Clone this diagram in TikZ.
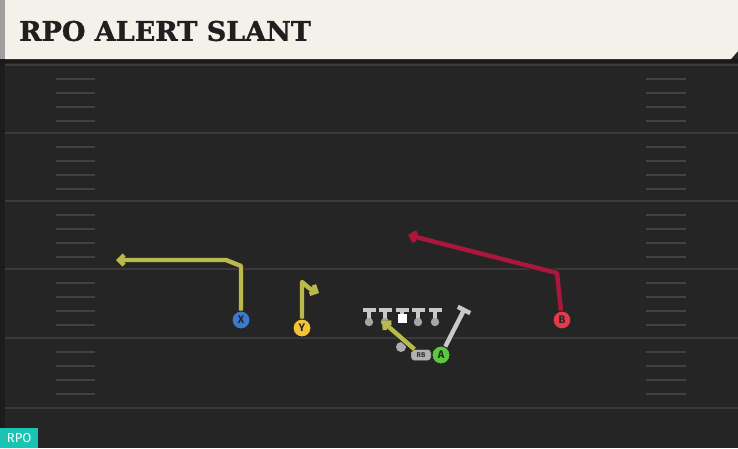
\documentclass[tikz,border=0pt]{standalone}
\usepackage{fontspec}
\setsansfont{Fira Sans}
\newfontfamily\titlefont{DejaVu Serif}[BoldFeatures={FakeBold=1.2}]
\usetikzlibrary{arrows.meta}
\usetikzlibrary{positioning}

\definecolor{fieldbg}{HTML}{252525}
\definecolor{yardgray}{HTML}{3A3A3A}
\definecolor{hashgray}{HTML}{414141}
\definecolor{cream}{HTML}{F4F1EA}
\definecolor{olivert}{HTML}{B9B94C}
\definecolor{redrt}{HTML}{AC163C}
\definecolor{blockgray}{HTML}{C9C9C9}
\definecolor{xblue}{HTML}{3C7AD2}
\definecolor{yyellow}{HTML}{F3C437}
\definecolor{bred}{HTML}{E23A4A}
\definecolor{agreen}{HTML}{5CC93C}
\definecolor{tagteal}{HTML}{19C4B3}

\begin{document}
\begin{tikzpicture}[x=1pt,y=-1pt,
    yard/.style={draw=yardgray,line width=2pt},
    hash/.style={draw=hashgray,line width=1.6pt},
    player/.style={circle,draw=black!85,line width=1pt,minimum size=18pt,inner sep=0pt,
        font=\sffamily\bfseries\fontsize{11}{11}\selectfont,text=black!85},
    route/.style={line width=4.4pt,line join=round,preaction={draw=black!85,line width=6.2pt}},
    lineman/.style={draw=blockgray,line width=3.6pt},
    tip/.style={-{Straight Barb[length=5pt,width=10pt]}}]
    \useasboundingbox (0,0) rectangle (738,448);
    \fill[fieldbg] (0,0) rectangle (738,448);
    \fill[black!25!fieldbg] (0,59) rectangle (5,448);
    \fill[black!90] (0,59) rectangle (738,63);
    \fill[gray!75] (0,0) rectangle (5,59);
    \fill[cream] (5,0) -- (738,0) -- (738,51) -- (731,59) -- (5,59) -- cycle;
    \node[anchor=west,font=\titlefont\bfseries\fontsize{27}{27}\selectfont,text=black!88,inner sep=0pt]
        (title) at (19,31) {RPO ALERT SLANT};

    \foreach \y in {65,133,201,269,338,408}
        \draw[yard] (5,\y) -- (738,\y);
    \foreach \y in {65,133,201,269,338}{
        \foreach \k in {14,28,42,56}{
            \draw[hash] (56,\y+\k) -- (95,\y+\k);
            \draw[hash] (646,\y+\k) -- (686,\y+\k);
        }
    }

    \node[fill=tagteal,text=white,anchor=south west,minimum width=38pt,minimum height=20pt,inner sep=0pt,
        font=\sffamily\fontsize{13}{13}\selectfont] (tag) at (0,448) {RPO};

    \foreach \x in {369,385,402,418,435}{
        \draw[lineman] (\x-6.5,310) -- (\x+6.5,310);
        \draw[lineman] (\x,310) -- (\x,320);
    }
    \foreach \x in {369,385,418,435}
        \fill[gray!70] (\x,322) circle (4.2pt);
    \node[fill=white,minimum size=9pt,inner sep=0pt] (center) at (402,318) {};

    \node[player,fill=xblue] (X) at (241,320) {X};
    \node[player,fill=yyellow] (Y) at (302,328) {Y};
    \node[player,fill=bred] (B) at (562,320) {B};
    \node[player,fill=agreen] (A) at (441,355) {A};
    \node[circle,fill=gray!65,minimum size=10pt,inner sep=0pt] (qb) at (401,347) {};
    \node[draw=black!85,fill=gray!60,rounded corners=3pt,minimum width=20pt,minimum height=11pt,inner sep=0pt,
        font=\sffamily\bfseries\fontsize{7}{7}\selectfont,text=black!80] (rb) at (421,355) {RB};

    \coordinate (xc1) at (241,266);
    \coordinate (xc2) at (226,260);
    \coordinate (xend) at (116,260);
    \coordinate (yc1) at (302,282);
    \coordinate (yc2) at (309,288);
    \coordinate (yend) at (319,293);
    \coordinate (bc1) at (557,273);
    \coordinate (bend) at (408,235);
    \coordinate (rbend) at (382,321);
    \coordinate (ablk) at (465,308);

    \draw[route,draw=olivert,tip] (X) -- (xc1) -- (xc2) -- (xend);
    \draw[route,draw=olivert,tip] (Y) -- (yc1) -- (yc2) -- (yend);
    \draw[route,draw=redrt,tip] (B) -- (bc1) -- (bend);
    \draw[route,draw=olivert,tip] (rb) -- (rbend);
    \draw[route,draw=blockgray,-{Bar[width=14pt]}] (A) -- (ablk);
\end{tikzpicture}
\end{document}
